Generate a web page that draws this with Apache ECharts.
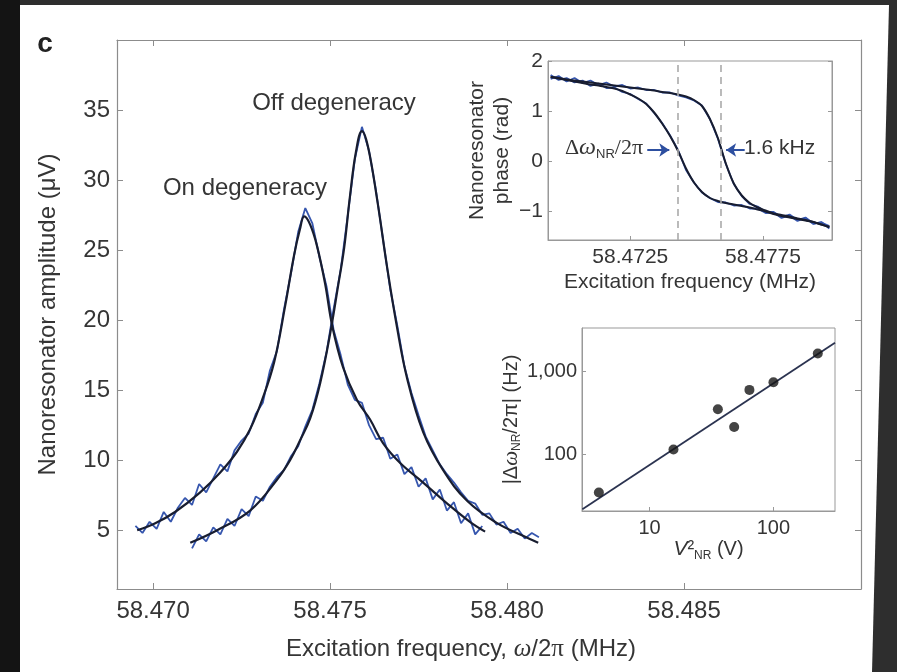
<!DOCTYPE html>
<html><head><meta charset="utf-8">
<script src="https://cdn.jsdelivr.net/npm/echarts@6/dist/echarts.min.js"></script>
<style>html,body{margin:0;padding:0;background:#2e2e2e}#c{width:897px;height:672px}</style>
</head><body><div id="c"></div>
<script>
// ---------- Main panel: amplitude vs excitation frequency ----------
const mainTickX = [58.470, 58.475, 58.480, 58.485];
const mainTickY = [5, 10, 15, 20, 25, 30, 35];

const onDataX = [58.4695, 58.4697, 58.4699, 58.4701, 58.4703, 58.4705, 58.4707, 58.4709, 58.4711, 58.4713,
  58.4715, 58.4717, 58.4719, 58.4721, 58.4723, 58.4725, 58.4727, 58.4729, 58.4731, 58.4733,
  58.4735, 58.4737, 58.4739, 58.4741, 58.4743, 58.4745, 58.4747, 58.4749, 58.4751, 58.4753,
  58.4755, 58.4757, 58.4759, 58.4761, 58.4763, 58.4765, 58.4767, 58.4769, 58.4771, 58.4773,
  58.4775, 58.4777, 58.4779, 58.4781, 58.4783, 58.4785, 58.4787, 58.4789, 58.4791, 58.4793];
const onDataY = [5.3, 4.8, 5.6, 5.1, 6.3, 5.6, 6.6, 7.3, 6.8, 8.3,
  7.7, 8.7, 9.7, 9.2, 10.7, 11.4, 11.9, 13.3, 14.1, 16.4,
  17.8, 20.8, 23.4, 26.3, 28.0, 26.9, 24.5, 22.4, 19.3, 17.5,
  15.4, 14.3, 14.1, 12.5, 11.5, 11.6, 10.1, 10.4, 9.0, 9.5,
  8.1, 8.7, 7.2, 7.9, 6.4, 7.0, 5.5, 6.2, 4.7, 5.3];

const offDataX = [58.4711, 58.4713, 58.4715, 58.4717, 58.4719, 58.4721, 58.4723, 58.4725, 58.4727, 58.4729,
  58.4731, 58.4733, 58.4735, 58.4737, 58.4739, 58.4741, 58.4743, 58.4745, 58.4747, 58.4749,
  58.4751, 58.4753, 58.4755, 58.4757, 58.4759, 58.4761, 58.4763, 58.4765, 58.4767, 58.4769,
  58.4771, 58.4773, 58.4775, 58.4777, 58.4779, 58.4781, 58.4783, 58.4785, 58.4787, 58.4789,
  58.4791, 58.4793, 58.4795, 58.4797, 58.4799, 58.4801, 58.4803, 58.4805, 58.4807, 58.4809];
const offDataY = [3.7, 4.7, 4.2, 5.2, 4.7, 5.8, 5.3, 6.5, 6.0, 7.4,
  7.1, 8.1, 8.8, 9.3, 10.3, 11.0, 12.4, 13.6, 15.5, 17.7,
  20.8, 23.6, 27.5, 31.5, 33.8, 32.1, 29.2, 25.7, 22.2, 19.6,
  16.7, 14.8, 13.2, 11.7, 10.7, 9.7, 9.0, 8.4, 7.7, 7.1,
  6.9, 6.1, 6.2, 5.4, 5.6, 4.8, 5.1, 4.4, 4.8, 4.5];

const onFitX = [58.46955, 58.47006, 58.47062, 58.47133, 58.47189, 58.47237, 58.47274, 58.47308, 58.47342,
  58.47373, 58.47398, 58.47415, 58.47427, 58.47444, 58.47463, 58.47486, 58.47506, 58.47537, 58.47576,
  58.47613, 58.47650, 58.47698, 58.47763, 58.47831, 58.47895, 58.47938];
const onFitY = [5.0, 5.5, 6.3, 7.7, 9.1, 10.6, 12.2, 14.3, 17.0,
  21.0, 24.6, 26.5, 27.4, 26.8, 25.3, 22.6, 19.6, 16.6, 14.3,
  12.9, 11.2, 9.8, 8.4, 6.9, 5.6, 4.9];

const offFitX = [58.47105, 58.47181, 58.47274, 58.47350, 58.47387, 58.47415, 58.47444, 58.47472, 58.47500,
  58.47523, 58.47540, 58.47556, 58.47573, 58.47590, 58.47607, 58.47633, 58.47661, 58.47689, 58.47718,
  58.47763, 58.47819, 58.47887, 58.47972, 58.48045, 58.48088];
const offFitY = [4.1, 5.0, 6.4, 8.6, 10.0, 11.4, 13.0, 15.5, 19.0,
  22.5, 25.2, 28.8, 32.0, 33.5, 32.4, 28.6, 23.8, 19.5, 15.8,
  12.0, 9.3, 7.1, 5.5, 4.6, 4.1];

// ---------- Inset 1: phase ----------
const phaseTickX = [58.4725, 58.4775];
const phaseTickY = [-1, 0, 1, 2];
const phaseDashX = [58.4743, 58.4759];
const phaseX = [58.4695, 58.4698, 58.4701, 58.4704, 58.4707, 58.4710, 58.4713, 58.4716, 58.4719, 58.4722,
  58.4725, 58.4728, 58.4731, 58.4734, 58.4737, 58.4740, 58.4743, 58.4746, 58.4749, 58.4752,
  58.4755, 58.4758, 58.4761, 58.4764, 58.4767, 58.4770, 58.4773, 58.4776, 58.4779, 58.4782,
  58.4785, 58.4788, 58.4791, 58.4794, 58.4797, 58.4800];
const phaseOnDataY = [1.72, 1.62, 1.66, 1.57, 1.61, 1.50, 1.55, 1.46, 1.47, 1.38,
  1.34, 1.24, 1.15, 0.96, 0.76, 0.51, 0.22, -0.18, -0.43, -0.63,
  -0.74, -0.82, -0.83, -0.89, -0.88, -0.95, -0.95, -1.04, -1.03, -1.14,
  -1.09, -1.20, -1.14, -1.26, -1.22, -1.35];
const phaseOffDataY = [1.64, 1.70, 1.59, 1.66, 1.56, 1.61, 1.52, 1.57, 1.49, 1.52,
  1.45, 1.47, 1.42, 1.42, 1.37, 1.37, 1.31, 1.27, 1.21, 1.11,
  0.84, 0.45, -0.06, -0.46, -0.70, -0.86, -0.91, -1.02, -1.02, -1.12,
  -1.07, -1.18, -1.13, -1.25, -1.23, -1.30];
const phaseOnFitY = [1.68, 1.65, 1.62, 1.59, 1.56, 1.53, 1.51, 1.48, 1.45, 1.40,
  1.33, 1.25, 1.14, 0.97, 0.75, 0.50, 0.20, -0.15, -0.43, -0.62,
  -0.74, -0.80, -0.84, -0.87, -0.90, -0.93, -0.97, -1.01, -1.06, -1.10,
  -1.13, -1.16, -1.19, -1.22, -1.27, -1.32];
const phaseOffFitY = [1.68, 1.66, 1.63, 1.61, 1.59, 1.57, 1.55, 1.53, 1.51, 1.49,
  1.47, 1.45, 1.43, 1.41, 1.38, 1.36, 1.33, 1.29, 1.22, 1.10,
  0.84, 0.46, -0.05, -0.45, -0.69, -0.84, -0.93, -0.99, -1.05, -1.08,
  -1.11, -1.15, -1.18, -1.22, -1.27, -1.32];

// ---------- Inset 2: log-log ----------
const vSquared = [3.9, 15.6, 35.6, 48.2, 64, 100, 228];
const deltaHz = [34.3, 114, 349, 213, 600, 743, 1655];
const fitVX = [2.87, 314];
const fitHzY = [21.5, 2233];

const zip = (a, b) => a.map((v, i) => [v, b[i]]);

const TXT = '#353535';
const AX = '#8c8c8c';
const BLUE = '#3656ae';
const FIT = '#181d30';
const FONT = 'Liberation Sans';
const PH_MIN = -1.58, PH_MAX = 2;

const chart = echarts.init(document.getElementById('c'));
const option = {
  animation: false,
  backgroundColor: '#2e2e2e',
  textStyle: { fontFamily: FONT },
  grid: [
    { left: 117, right: 36, top: 40, bottom: 83 },
    { left: 548, right: 65, top: 61, bottom: 432, show: true, backgroundColor: '#fff', borderColor: '#999', borderWidth: 1 },
    { left: 582, right: 62, top: 328, bottom: 161, show: true, backgroundColor: '#fff', borderColor: '#999', borderWidth: 1 }
  ],
  xAxis: [
    { gridIndex: 0, type: 'value', position: 'bottom', min: 58.46898, max: 58.49,
      axisLine: { onZero: false, lineStyle: { color: AX, width: 1.2 } },
      axisTick: { inside: true, length: 6, customValues: mainTickX, lineStyle: { color: AX } },
      axisLabel: { customValues: mainTickX, formatter: v => v.toFixed(3), fontSize: 24, color: TXT, margin: 10, fontFamily: FONT },
      splitLine: { show: false },
      name: '{a|Excitation frequency, }{w|ω}{a|/2}{p|π}{a| (MHz)}',
      nameLocation: 'middle', nameGap: 48,
      nameTextStyle: { padding: [0, 56, 0, 0], rich: {
        a: { fontSize: 24, color: TXT, fontFamily: FONT },
        w: { fontSize: 25, color: TXT, fontFamily: 'Liberation Serif', fontStyle: 'italic' },
        p: { fontSize: 25, color: TXT, fontFamily: 'Liberation Serif' } } } },
    { gridIndex: 0, type: 'value', position: 'top', min: 58.46898, max: 58.49,
      axisLine: { onZero: false, lineStyle: { color: AX, width: 1.2 } },
      axisTick: { inside: true, length: 6, customValues: mainTickX, lineStyle: { color: AX } },
      axisLabel: { show: false }, splitLine: { show: false } },
    { gridIndex: 1, type: 'value', position: 'bottom', min: 58.4694, max: 58.4801,
      axisLine: { onZero: false, lineStyle: { color: '#999' } },
      axisTick: { inside: true, length: 4, customValues: phaseTickX, lineStyle: { color: '#999' } },
      axisLabel: { customValues: phaseTickX, formatter: v => v.toFixed(4), fontSize: 21, color: TXT, margin: 7, fontFamily: FONT },
      splitLine: { show: false },
      name: 'Excitation frequency (MHz)', nameLocation: 'middle', nameGap: 32,
      nameTextStyle: { fontSize: 21, color: TXT, fontFamily: FONT } },
    { gridIndex: 2, type: 'log', logBase: 10, position: 'bottom', min: 2.85, max: 314,
      axisLine: { onZero: false, lineStyle: { color: '#999' } },
      axisTick: { inside: true, length: 4, lineStyle: { color: '#999' } },
      minorTick: { show: false },
      axisLabel: { fontSize: 20, color: TXT, margin: 7, fontFamily: FONT, showMinLabel: false, showMaxLabel: false,
        formatter: v => String(Math.round(v)) },
      splitLine: { show: false },
      name: '{w|V}{a|²}{s|NR}{a| (V)}', nameLocation: 'middle', nameGap: 24,
      nameTextStyle: { rich: {
        a: { fontSize: 20, color: TXT, fontFamily: FONT },
        w: { fontSize: 21, color: TXT, fontFamily: FONT, fontStyle: 'italic' },
        s: { fontSize: 12, color: TXT, fontFamily: FONT, padding: [12, 0, 0, 0] } } } }
  ],
  yAxis: [
    { gridIndex: 0, type: 'value', position: 'left', min: 0.8, max: 40,
      axisLine: { show: true, onZero: false, lineStyle: { color: AX, width: 1.2 } },
      axisTick: { show: true, inside: true, length: 6, customValues: mainTickY, lineStyle: { color: AX } },
      axisLabel: { customValues: mainTickY, fontSize: 24, color: TXT, margin: 7, fontFamily: FONT },
      splitLine: { show: false },
      name: 'Nanoresonator amplitude (μV)', nameLocation: 'middle', nameGap: 57,
      nameTextStyle: { fontSize: 24, color: TXT, fontFamily: FONT } },
    { gridIndex: 0, type: 'value', position: 'right', min: 0.8, max: 40,
      axisLine: { show: true, onZero: false, lineStyle: { color: AX, width: 1.2 } },
      axisTick: { show: true, inside: true, length: 6, customValues: mainTickY, lineStyle: { color: AX } },
      axisLabel: { show: false }, splitLine: { show: false } },
    { gridIndex: 1, type: 'value', position: 'left', min: PH_MIN, max: PH_MAX,
      axisLine: { show: true, onZero: false, lineStyle: { color: '#999' } },
      axisTick: { show: true, inside: true, length: 4, customValues: phaseTickY, lineStyle: { color: '#999' } },
      axisLabel: { customValues: phaseTickY, fontSize: 21, color: TXT, margin: 5, fontFamily: FONT,
        formatter: v => (v < 0 ? '\u2212' + Math.abs(v) : String(v)) },
      splitLine: { show: false },
      name: 'Nanoresonator\nphase (rad)', nameLocation: 'middle', nameGap: 31,
      nameTextStyle: { fontSize: 21, lineHeight: 25, color: TXT, fontFamily: FONT } },
    { gridIndex: 1, type: 'value', position: 'right', min: PH_MIN, max: PH_MAX,
      axisLine: { show: true, onZero: false, lineStyle: { color: '#999' } },
      axisTick: { show: true, inside: true, length: 4, customValues: phaseTickY, lineStyle: { color: '#999' } },
      axisLabel: { show: false }, splitLine: { show: false } },
    { gridIndex: 2, type: 'log', logBase: 10, position: 'left', min: 20.5, max: 3370,
      axisLine: { show: true, onZero: false, lineStyle: { color: '#999' } },
      axisTick: { show: true, inside: true, length: 4, lineStyle: { color: '#999' } },
      minorTick: { show: false },
      axisLabel: { fontSize: 20, color: TXT, margin: 5, fontFamily: FONT, showMinLabel: false, showMaxLabel: false,
        formatter: v => String(Math.round(v)).replace(/\B(?=(\d{3})+(?!\d))/g, ',') },
      splitLine: { show: false },
      name: '{a|\u007CΔ}{w|ω}{s|NR}{a|/2π\u007C (Hz)}', nameLocation: 'middle', nameGap: 58,
      nameTextStyle: { rich: {
        a: { fontSize: 20, color: TXT, fontFamily: FONT },
        w: { fontSize: 21, color: TXT, fontFamily: 'Liberation Serif', fontStyle: 'italic' },
        s: { fontSize: 12, color: TXT, fontFamily: FONT, padding: [12, 0, 0, 0] } } } }
  ],
  series: [
    { type: 'line', xAxisIndex: 0, yAxisIndex: 0, data: zip(onDataX, onDataY), showSymbol: false,
      lineStyle: { color: BLUE, width: 1.8 }, z: 2 },
    { type: 'line', xAxisIndex: 0, yAxisIndex: 0, data: zip(offDataX, offDataY), showSymbol: false,
      lineStyle: { color: BLUE, width: 1.8 }, z: 2 },
    { type: 'line', xAxisIndex: 0, yAxisIndex: 0, data: zip(onFitX, onFitY), showSymbol: false, smooth: 0.4,
      lineStyle: { color: FIT, width: 2.2 }, z: 3 },
    { type: 'line', xAxisIndex: 0, yAxisIndex: 0, data: zip(offFitX, offFitY), showSymbol: false, smooth: 0.4,
      lineStyle: { color: FIT, width: 2.2 }, z: 3 },
    // phase inset
    { type: 'line', xAxisIndex: 2, yAxisIndex: 2, data: zip(phaseX, phaseOnDataY), showSymbol: false,
      lineStyle: { color: BLUE, width: 1.8 }, z: 2,
      markLine: { silent: true, symbol: 'none', label: { show: false },
        lineStyle: { color: '#aaa', type: [7, 5], width: 1.6 },
        data: phaseDashX.map(x => [{ coord: [x, PH_MIN] }, { coord: [x, PH_MAX] }]) } },
    { type: 'line', xAxisIndex: 2, yAxisIndex: 2, data: zip(phaseX, phaseOffDataY), showSymbol: false,
      lineStyle: { color: BLUE, width: 1.8 }, z: 2,
      markLine: { silent: true, symbol: ['none', 'arrow'], symbolSize: 10, label: { show: false },
        lineStyle: { color: '#2d4fa0', type: 'solid', width: 2 },
        data: [
          [{ coord: [58.47314, 0.22] }, { coord: [58.47397, 0.22] }],
          [{ coord: [58.47681, 0.22] }, { coord: [58.47611, 0.22] }]
        ] } },
    { type: 'line', xAxisIndex: 2, yAxisIndex: 2, data: zip(phaseX, phaseOnFitY), showSymbol: false, smooth: 0.3,
      lineStyle: { color: FIT, width: 2 }, z: 3 },
    { type: 'line', xAxisIndex: 2, yAxisIndex: 2, data: zip(phaseX, phaseOffFitY), showSymbol: false, smooth: 0.3,
      lineStyle: { color: FIT, width: 2 }, z: 3 },
    // log-log inset
    { type: 'line', xAxisIndex: 3, yAxisIndex: 4, data: zip(fitVX, fitHzY), showSymbol: false,
      lineStyle: { color: '#2b3350', width: 1.8 }, z: 2 },
    { type: 'scatter', xAxisIndex: 3, yAxisIndex: 4, data: zip(vSquared, deltaHz), symbolSize: 10,
      itemStyle: { color: '#151515' }, z: 3 }
  ],
  graphic: [
    { type: 'rect', z: -100, shape: { x: 0, y: 0, width: 20, height: 672 }, style: { fill: '#141414' } },
    { type: 'polygon', z: -99, shape: { points: [[20, 5], [889, 5], [872, 672], [20, 672]] }, style: { fill: '#ffffff' } },
    { type: 'text', z: 10, style: { text: 'c', x: 45, y: 44, font: 'bold 28px "Liberation Sans"', fill: '#222', align: 'center', verticalAlign: 'middle' } },
    { type: 'text', z: 10, style: { text: 'Off degeneracy', x: 334, y: 103, font: '24px "Liberation Sans"', fill: TXT, align: 'center', verticalAlign: 'middle' } },
    { type: 'text', z: 10, style: { text: 'On degeneracy', x: 245, y: 188, font: '24px "Liberation Sans"', fill: TXT, align: 'center', verticalAlign: 'middle' } },
    { type: 'text', z: 10, style: { text: '{a|Δ}{w|ω}{s|NR}{a|/2π}', x: 643, y: 148, align: 'right', verticalAlign: 'middle',
      rich: {
        a: { fontSize: 22, fill: TXT, fontFamily: 'Liberation Serif' },
        w: { fontSize: 24, fill: TXT, fontFamily: 'Liberation Serif', fontStyle: 'italic' },
        s: { fontSize: 13, fill: TXT, fontFamily: FONT, padding: [13, 0, 0, 0] } } } },
    { type: 'text', z: 10, style: { text: '1.6 kHz', x: 744, y: 148, font: '21px "Liberation Sans"', fill: TXT, align: 'left', verticalAlign: 'middle' } }
  ]
};
chart.setOption(option);
</script>
</body></html>
